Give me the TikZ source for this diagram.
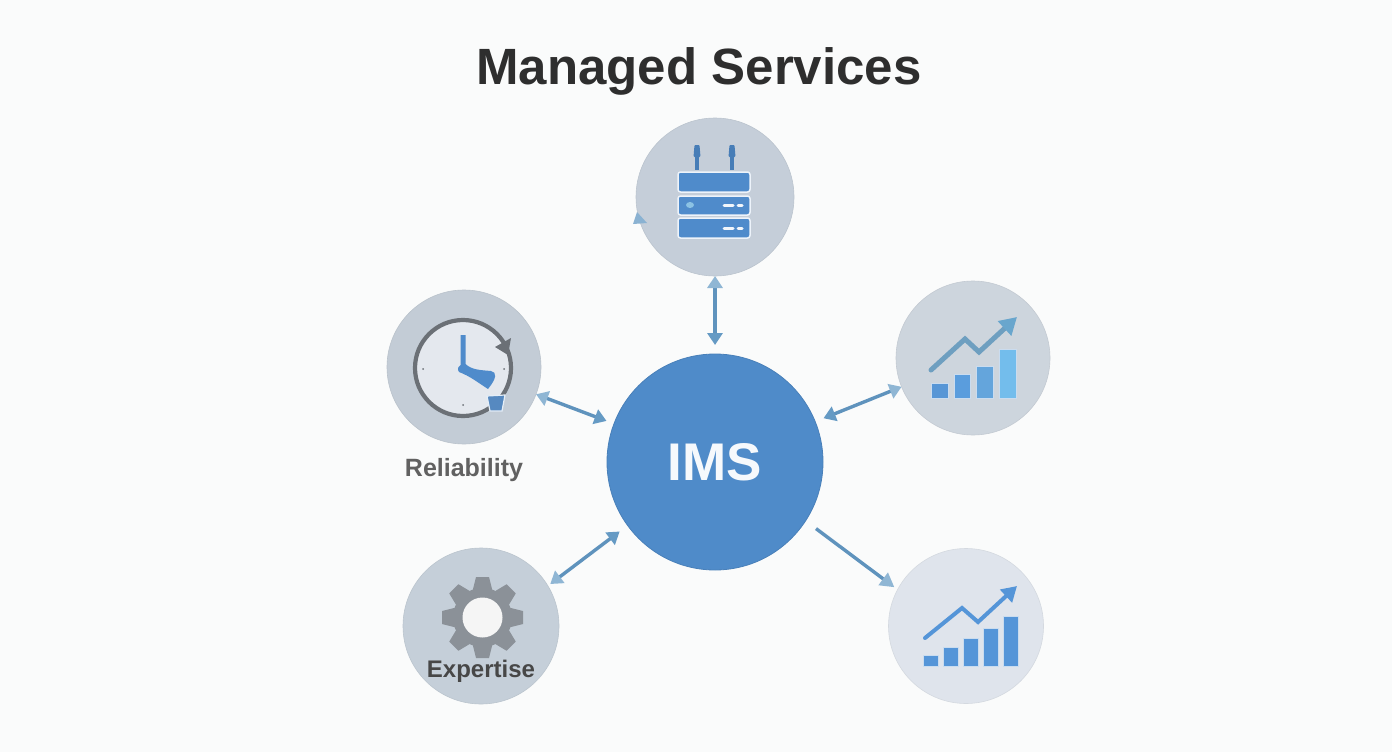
\documentclass[tikz,border=0pt]{standalone}
\usepackage{fontspec}
\setmainfont{Liberation Sans}
\usetikzlibrary{positioning,arrows.meta}
\definecolor{pagebg}{HTML}{FAFBFB}
\definecolor{imsblue}{HTML}{4F8BC9}
\definecolor{iconblue}{HTML}{4F8BCB}
\definecolor{barblue}{HTML}{5595D8}
\definecolor{linkblue}{HTML}{5F93BD}
\definecolor{headlight}{HTML}{8FB6D4}
\definecolor{headdark}{HTML}{659AC4}
\definecolor{growthline}{HTML}{6E9FC0}
\definecolor{growthhead}{HTML}{69A6CD}
\definecolor{clockgrey}{HTML}{6B7076}
\definecolor{clockface}{HTML}{E4E8EE}
\definecolor{geargrey}{HTML}{8B9198}
\definecolor{servercircle}{HTML}{C5CED9}
\definecolor{clockcircle}{HTML}{C3CCD6}
\definecolor{growthcircle}{HTML}{CDD5DD}
\definecolor{gearcircle}{HTML}{C5CFD9}
\definecolor{trendcircle}{HTML}{DFE4EC}
\tikzset{
    hub/.style={circle, draw=#1!95!black, fill=#1, line width=0.6pt, inner sep=0pt, outer sep=0pt, minimum size=154pt},
    link/.style={line width=3.4pt, color=linkblue, {Triangle[length=12pt,width=15pt,color=headlight]}-{Triangle[length=12pt,width=15pt,color=headdark]}},
    rack/.style={draw=white!90!iconblue, fill=iconblue, line width=1.5pt, rounded corners=2.5pt},
    bar/.style={draw=white!70!iconblue, line width=1pt},
    caption/.style={font=\bfseries\fontsize{25}{30}\selectfont, text=#1}
}
\begin{document}
\begin{tikzpicture}[x=1pt, y=-1pt]
    \fill[pagebg] (0,0) rectangle (1392,752);
    \useasboundingbox (0,0) rectangle (1392,752);

    % Nodes
    \node (title) at (699,71) [font=\bfseries\fontsize{51}{60}\selectfont, text=black!82] {Managed Services};
    \node (ims) at (715,462) [circle, fill=imsblue, draw=imsblue!92!black, line width=0.8pt, inner sep=0pt, outer sep=0pt, minimum size=216pt,
        font=\bfseries\fontsize{53}{60}\selectfont, text=white!95!imsblue] {IMS};
    \node (server) [hub=servercircle, minimum size=158pt, on grid, above=265pt of ims] {};
    \node (clock) [hub=clockcircle, on grid, above left=95pt and 251pt of ims] {};
    \node (growth) [hub=growthcircle, on grid, above right=104pt and 258pt of ims] {};
    \node (gearwheel) [hub=gearcircle, minimum size=156pt, on grid, below left=164pt and 234pt of ims] {};
    \node (trend) [hub=trendcircle, minimum size=155pt, on grid, below right=164pt and 251pt of ims] {};
    \node (reliability) [caption={black!62}, on grid, below=103pt of clock] {Reliability};

    % Arrows
    \draw[link, shorten >=9pt] (server) -- (ims);
    \draw[link, shorten >=8pt] (clock) -- (ims);
    \draw[link, shorten >=9pt] (growth) -- (ims);
    \draw[link, shorten <=3pt, shorten >=10pt] (gearwheel.31) -- (ims.216);
    \draw[line width=3.4pt, color=linkblue, -{Triangle[length=14pt,width=15pt,color=headlight]}, shorten <=13pt, shorten >=4pt] (ims.-33) -- (trend.152);
    \fill[headlight!90!linkblue] (633,224) -- (637,212) -- (647,223) -- cycle;

    % Server icon
    \foreach \x in {697,732} {
        \draw[iconblue!90!black, line width=4pt] (\x,152) -- (\x,170);
        \fill[iconblue!90!black, rounded corners=1pt] (\x-2.5,145) -- (\x+2.5,145) -- (\x+3.5,157) -- (\x-3.5,157) -- cycle;
    }
    \draw[rack] (678,172) rectangle (750,192);
    \draw[rack] (678,196) rectangle (750,215);
    \draw[rack] (678,218) rectangle (750,238);
    \fill[cyan!40!white!70!iconblue] (690,205) ellipse [x radius=4pt, y radius=3pt];
    \foreach \y in {205,228} {
        \draw[white!92!iconblue, line width=3pt, line cap=round] (724,\y) -- (733,\y);
        \draw[white!92!iconblue, line width=3pt, line cap=round] (738,\y) -- (742,\y);
    }

    % Clock icon
    \fill[clockface] (463,368) circle [radius=48pt];
    \draw[clockgrey, line width=4.2pt] (463,368) circle [radius=48pt];
    \fill[clockgrey] (495,347) -- (511,338) -- (508,355) -- cycle;
    \foreach \px/\py in {423/369,504/369,463/405} {
        \fill[clockgrey] (\px,\py) circle [radius=1pt];
    }
    \fill[iconblue] (460.5,335) -- (465.5,335) -- (465.5,364) .. controls (472,370) and (480,370) .. (491,371)
        .. controls (497,372) and (497,378) .. (488,389) .. controls (480,384) and (470,376) .. (459,372)
        .. controls (457,369) and (458,366) .. (460.5,365) -- cycle;
    \filldraw[draw=white!85!iconblue, fill=iconblue!85!gray, line width=1.2pt] (487,396) -- (505,395) -- (502,411) -- (490,411) -- cycle;

    % Gear icon
    \fill[geargrey] (482.5,617.5) circle [radius=29.5pt];
    \foreach \a in {0,45,...,315} {
        \fill[geargrey, rotate around={\a:(482.5,617.5)}] (476,577) -- (489,577) -- (492.5,591) -- (472.5,591) -- cycle;
    }
    \fill[white!92!gray] (482.5,617.5) circle [radius=20pt];
    \node (expertise) [caption={black!72}, font=\bfseries\fontsize{24}{30}\selectfont, on grid, below=45pt of gearwheel] {Expertise};

    % Growth chart icon
    \foreach \xa/\xb/\ytop/\shade in {931/948/383/5796D6,954/970/374/5A9DDD,976/993/366/64A5DC,999/1016/349/73BDEC} {
        \definecolor{barfill}{HTML}{\shade}
        \draw[bar, fill=barfill] (\xa,\ytop) rectangle (\xb,398);
    }
    \draw[color=growthline, line width=5pt, line cap=round, -{Triangle[length=17pt,width=19pt,color=growthhead]}] (931,370) -- (965,339) -- (979,352) -- (1017,317);

    % Trend chart icon
    \foreach \xa/\ytop in {923/655,943/647,963/638,983/628,1003/616} {
        \draw[bar, fill=barblue] (\xa,\ytop) rectangle (\xa+15,666);
    }
    \draw[color=barblue, line width=4pt, line cap=round, -{Triangle[length=15pt,width=17pt]}] (925,638) -- (962,608) -- (978,622) -- (1017,586);
\end{tikzpicture}
\end{document}
